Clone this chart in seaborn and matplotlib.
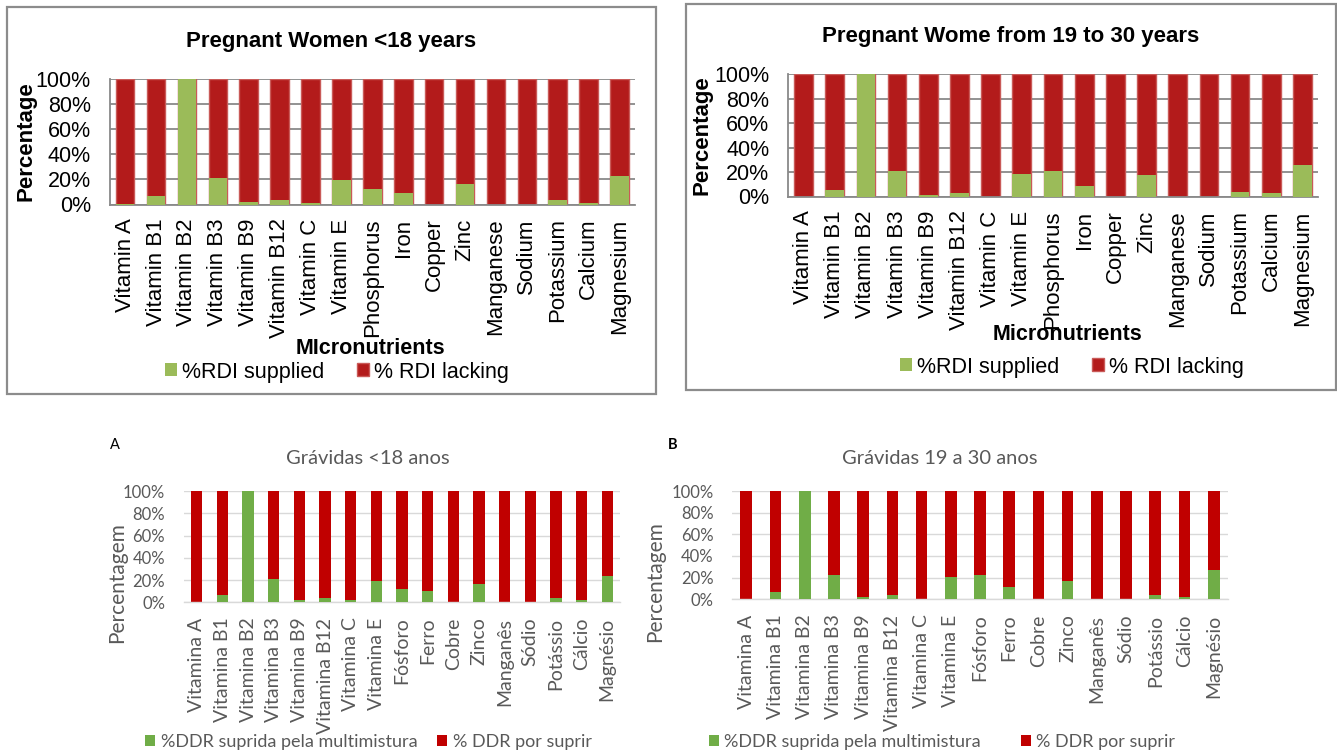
import matplotlib
matplotlib.use("Agg")
import matplotlib.pyplot as plt
from matplotlib.patches import Patch, Rectangle
import pandas as pd
import seaborn as sns

# Micronutrient categories
nutrients_en = ["Vitamin A", "Vitamin B1", "Vitamin B2", "Vitamin B3", "Vitamin B9",
                "Vitamin B12", "Vitamin C", "Vitamin E", "Phosphorus", "Iron", "Copper",
                "Zinc", "Manganese", "Sodium", "Potassium", "Calcium", "Magnesium"]
nutrients_pt = ["Vitamina A", "Vitamina B1", "Vitamina B2", "Vitamina B3", "Vitamina B9",
                "Vitamina B12", "Vitamina C", "Vitamina E", "Fósforo", "Ferro", "Cobre",
                "Zinco", "Manganês", "Sódio", "Potássio", "Cálcio", "Magnésio"]

# Share of the recommended daily intake supplied (%)
supplied_u18_en = [0.5, 6.5, 100, 21.5, 2, 3.5, 1.5, 19.5, 12, 9.5, 0, 16.5, 0, 0, 3.5, 1.5, 23]
supplied_19_30_en = [0, 5.5, 100, 20.5, 1.6, 2.7, 0, 18.6, 20.5, 8.5, 0, 17.4, 0, 0, 3.3, 2.5, 26]
supplied_u18_pt = [0, 7, 100, 21, 2, 3.5, 2, 19.5, 12, 10, 0, 16.5, 0, 0, 3.5, 2, 24]
supplied_19_30_pt = [0, 7, 100, 22, 2.5, 4, 0, 21, 22, 11, 0, 17, 0, 0, 4, 2.5, 27]

titles_en = ["Pregnant Women <18 years", "Pregnant Wome from 19 to 30 years"]
titles_pt = ["Grávidas <18 anos", "Grávidas 19 a 30 anos"]
legend_en = ["%RDI supplied", "% RDI lacking"]
legend_pt = ["%DDR suprida pela multimistura", "% DDR por suprir"]
ytick_values = [0, 20, 40, 60, 80, 100]

W, H = 1337, 754
fig = plt.figure(figsize=(W / 100, H / 100), dpi=100)
fig.patch.set_facecolor("white")


def fx(px):
    return px / W


def fy(py):
    return 1 - py / H


def draw_panel(box, cats, supplied, green, red, bar_width, edge, grid_color,
               font, tick_size_x, tick_size_y, text_color, xpad, ypad, left_spine):
    left, top, right, bottom = box
    ax = fig.add_axes([fx(left), fy(bottom), (right - left) / W, (bottom - top) / H])
    df = pd.DataFrame({"nutrient": cats, "supplied": supplied})
    df["lacking"] = 100 - df["supplied"]
    df["stack_top"] = df["supplied"] + df["lacking"]
    sns.barplot(data=df, x="nutrient", y="stack_top", color=red, width=bar_width,
                saturation=1, errorbar=None, edgecolor=edge,
                linewidth=1.0 if edge != red else 0, ax=ax, zorder=2)
    sns.barplot(data=df, x="nutrient", y="supplied", color=green, width=bar_width,
                saturation=1, errorbar=None, linewidth=0, ax=ax, zorder=3)
    ax.set_xlim(-0.5, len(cats) - 0.5)
    ax.set_ylim(0, 100)
    ax.set_yticks(ytick_values)
    ax.set_yticklabels([f"{v}%" for v in ytick_values], fontsize=tick_size_y,
                       family=font, color=text_color)
    ax.set_xticks(range(len(cats)))
    ax.set_xticklabels(cats, rotation=90, fontsize=tick_size_x, family=font,
                       color=text_color)
    ax.set_xlabel("")
    ax.set_ylabel("")
    ax.tick_params(axis="both", length=0)
    ax.tick_params(axis="x", pad=xpad)
    ax.tick_params(axis="y", pad=ypad)
    ax.yaxis.grid(True, color=grid_color, linewidth=1.3 if left_spine else 1.0, zorder=0)
    ax.set_axisbelow(True)
    for side in ["top", "right"]:
        ax.spines[side].set_visible(False)
    ax.spines["bottom"].set_color(grid_color)
    ax.spines["bottom"].set_linewidth(1.3 if left_spine else 1.0)
    if left_spine:
        ax.spines["left"].set_color(grid_color)
        ax.spines["left"].set_linewidth(1.3)
    else:
        ax.spines["left"].set_visible(False)
    ax.set_facecolor("none")
    return ax


# English panels (boxed)
EN_FONT = "Liberation Sans"
EN_GREEN, EN_RED, EN_EDGE, EN_GRID = "#9BBB59", "#B31B1B", "#C95A58", "#898989"
draw_panel((109.7, 79, 635, 204.5), nutrients_en, supplied_u18_en, EN_GREEN, EN_RED,
           0.6, EN_EDGE, EN_GRID, EN_FONT, 16, 15.5, "black", 10, 13.5, True)
draw_panel((788, 74.3, 1318, 196.5), nutrients_en, supplied_19_30_en, EN_GREEN, EN_RED,
           0.6, EN_EDGE, EN_GRID, EN_FONT, 16, 15.5, "black", 10, 13.5, True)

for (x0, y0, x1, y1) in [(6.5, 7.3, 655.7, 394.5), (685.7, 4, 1335.5, 390)]:
    fig.add_artist(Rectangle((fx(x0), fy(y1)), (x1 - x0) / W, (y1 - y0) / H,
                             transform=fig.transFigure, fill=False,
                             edgecolor="#8C8C8C", linewidth=1.6))

fig.text(fx(331), fy(41), titles_en[0], ha="center", va="center", fontsize=16,
         fontweight="bold", family=EN_FONT)
fig.text(fx(1011), fy(36.5), titles_en[1], ha="center", va="center", fontsize=16,
         fontweight="bold", family=EN_FONT)
fig.text(fx(26.5), fy(141), "Percentage", rotation=90, ha="center", va="center",
         fontsize=16, fontweight="bold", family=EN_FONT)
fig.text(fx(701.7), fy(135.5), "Percentage", rotation=90, ha="center", va="center",
         fontsize=16, fontweight="bold", family=EN_FONT)
fig.text(fx(370.5), fy(349), "MIcronutrients", ha="center", va="center", fontsize=15.5,
         fontweight="bold", family=EN_FONT)
fig.text(fx(1068), fy(334), "Micronutrients", ha="center", va="center", fontsize=15.5,
         fontweight="bold", family=EN_FONT)

en_handles = [Patch(facecolor=EN_GREEN, edgecolor="none"),
              Patch(facecolor=EN_RED, edgecolor=EN_EDGE, linewidth=1)]
for cx, cy in [(337, 372), (1072, 367)]:
    fig.legend(en_handles, legend_en, loc="center", bbox_to_anchor=(fx(cx), fy(cy)),
               ncol=2, frameon=False, handlelength=0.55, handleheight=0.55,
               handletextpad=0.25, columnspacing=1.5,
               prop={"family": EN_FONT, "size": 15.5}, borderaxespad=0, borderpad=0)

# Portuguese panels
PT_FONT = "Lato"
PT_GREEN, PT_RED, PT_GRID, PT_TEXT = "#70AD47", "#C00000", "#D9D9D9", "#595959"
draw_panel((184, 491, 620, 602.3), nutrients_pt, supplied_u18_pt, PT_GREEN, PT_RED,
           0.44, PT_RED, PT_GRID, PT_FONT, 14, 12, PT_TEXT, 11, 13.5, False)
draw_panel((731.7, 491, 1228.3, 599.3), nutrients_pt, supplied_19_30_pt, PT_GREEN, PT_RED,
           0.4, PT_RED, PT_GRID, PT_FONT, 14, 12, PT_TEXT, 11, 13, False)

fig.text(fx(368), fy(458), titles_pt[0], ha="center", va="center", fontsize=14.5,
         family=PT_FONT, color=PT_TEXT)
fig.text(fx(940), fy(458), titles_pt[1], ha="center", va="center", fontsize=14.5,
         family=PT_FONT, color=PT_TEXT)
fig.text(fx(117), fy(583), "Percentagem", rotation=90, ha="center", va="center",
         fontsize=15, family=PT_FONT, color=PT_TEXT)
fig.text(fx(655), fy(582), "Percentagem", rotation=90, ha="center", va="center",
         fontsize=15, family=PT_FONT, color=PT_TEXT)
fig.text(fx(115), fy(445), "A", ha="center", va="center", fontsize=10.5,
         family=PT_FONT, color="black")
fig.text(fx(672.5), fy(445), "B", ha="center", va="center", fontsize=10.5,
         family=PT_FONT, fontweight="bold", color="black")

pt_handles = [Patch(facecolor=PT_GREEN, edgecolor="none"),
              Patch(facecolor=PT_RED, edgecolor="none")]
for cx, cy, gap in [(368.5, 742, 1.1), (942, 742, 2.2)]:
    fig.legend(pt_handles, legend_pt, loc="center", bbox_to_anchor=(fx(cx), fy(cy)),
               ncol=2, frameon=False, handlelength=0.55, handleheight=0.55,
               handletextpad=0.3, columnspacing=gap, labelcolor=PT_TEXT,
               prop={"family": PT_FONT, "size": 13}, borderaxespad=0, borderpad=0)

fig.savefig("out.png", dpi=100)
